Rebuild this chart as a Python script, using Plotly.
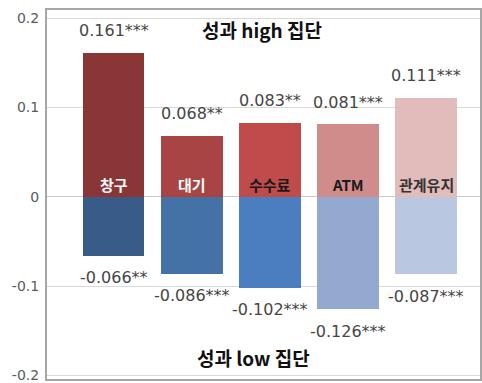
import plotly.graph_objects as go

categories = ["창구", "대기", "수수료", "ATM", "관계유지"]
high_values = [0.161, 0.068, 0.083, 0.081, 0.111]
low_values = [-0.066, -0.086, -0.102, -0.126, -0.087]
high_labels = ["0.161***", "0.068**", "0.083**", "0.081***", "0.111***"]
low_labels = ["-0.066**", "-0.086***", "-0.102***", "-0.126***", "-0.087***"]
high_colors = ["#8a3636", "#a84444", "#bf4c4b", "#d08b8b", "#e2bbbb"]
low_colors = ["#385b87", "#4472a7", "#4a7ec0", "#93a9cf", "#b9c7e1"]
cat_label_colors = ["#ffffff", "#ffffff", "#1a1a1a", "#1a1a1a", "#333333"]
y_ticks = [0.2, 0.1, 0, -0.1, -0.2]
y_tick_text = ["0.2", "0.1", "0", "-0.1", "-0.2"]

x = list(range(len(categories)))
bar_w = 0.79

fig = go.Figure()
fig.add_trace(go.Bar(x=x, y=high_values, width=bar_w, marker=dict(color=high_colors, line=dict(width=0)),
                     showlegend=False, hoverinfo="skip"))
fig.add_trace(go.Bar(x=x, y=low_values, width=bar_w, marker=dict(color=low_colors, line=dict(width=0)),
                     showlegend=False, hoverinfo="skip"))

val_font = dict(family="DejaVu Sans", size=16, color="#454545")
for i in x:
    fig.add_annotation(x=i, y=high_values[i], text=high_labels[i], showarrow=False,
                       yanchor="middle", yshift=22, font=val_font)
    fig.add_annotation(x=i, y=low_values[i], text=low_labels[i], showarrow=False,
                       yanchor="middle", yshift=-22, font=val_font)
    fig.add_annotation(x=i, y=0, text="<b>" + categories[i] + "</b>", showarrow=False,
                       yanchor="bottom", yshift=0,
                       font=dict(family="Noto Sans CJK KR", size=15, color=cat_label_colors[i]))

title_font = dict(family="Noto Sans CJK KR", size=19, color="#111111")
fig.add_annotation(xref="paper", yref="paper", x=0.497, y=0.946, text="<b>성과 high 집단</b>",
                   showarrow=False, xanchor="center", yanchor="middle", font=title_font)
fig.add_annotation(xref="paper", yref="paper", x=0.476, y=0.057, text="<b>성과 low 집단</b>",
                   showarrow=False, xanchor="center", yanchor="middle", font=title_font)

fig.update_layout(
    width=482, height=383,
    margin=dict(l=47, r=0, t=10, b=4),
    paper_bgcolor="white", plot_bgcolor="white",
    barmode="overlay", bargap=0,
    xaxis=dict(range=[-0.853, 4.69], showticklabels=False, showgrid=False, zeroline=False,
               showline=True, linecolor="#a6a6a6", linewidth=2, mirror=True, ticks=""),
    yaxis=dict(range=[-0.204, 0.209], tickvals=y_ticks, ticktext=y_tick_text,
               showgrid=True, gridcolor="#d9d9d9", gridwidth=1,
               zeroline=True, zerolinecolor="#c8c8c8", zerolinewidth=1,
               showline=True, linecolor="#a6a6a6", linewidth=2, mirror=True,
               ticks="", ticklabelstandoff=3, ticklabeloverflow="allow",
               tickfont=dict(family="DejaVu Sans", size=14, color="#595959")),
)

fig.write_html("out.html")
